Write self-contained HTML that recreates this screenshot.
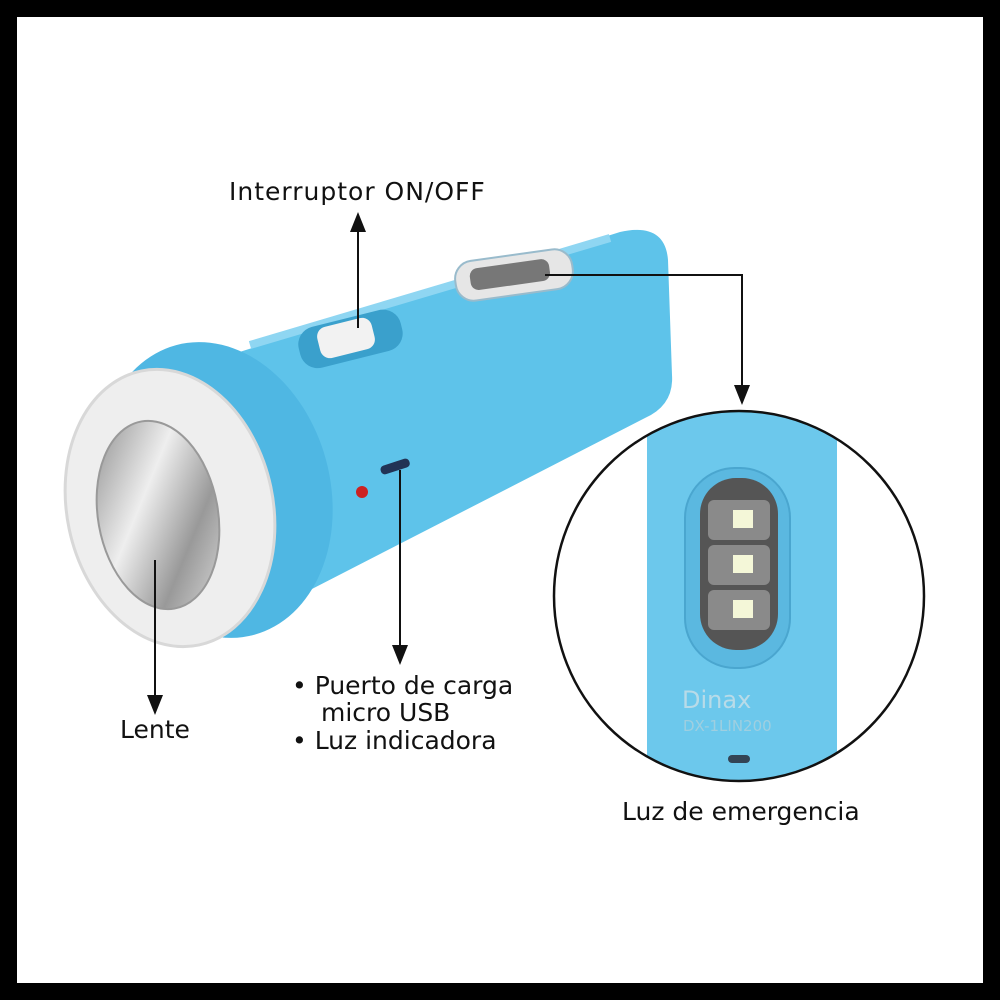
<!DOCTYPE html><html><head><style>body{margin:0}svg{display:block}text{font-family:"DejaVu Sans","Liberation Sans",sans-serif;font-size:25px;fill:#111}</style></head><body>
<svg width="1000" height="1000" viewBox="0 0 1000 1000">
<defs>
<marker id="a" markerWidth="10" markerHeight="10" refX="5" refY="5" orient="auto"><path d="M0,1 L10,5 L0,9 Z" fill="#111"/></marker>
<clipPath id="c"><circle cx="739" cy="596" r="185"/></clipPath>
<linearGradient id="lg" x1="0" y1="0" x2="1" y2="1"><stop offset="0" stop-color="#888"/><stop offset=".4" stop-color="#eee"/><stop offset=".7" stop-color="#999"/><stop offset="1" stop-color="#ddd"/></linearGradient>
</defs>
<rect width="1000" height="1000" fill="#000"/>
<rect x="17" y="17" width="966" height="966" fill="#fff"/>
<path d="M230,355 L620,232 Q665,222 668,260 L672,375 Q674,405 645,418 L310,590 Z" fill="#5ec3ea"/>
<path d="M250,345 L610,238" stroke="#8fd6f2" stroke-width="8" fill="none"/>
<ellipse cx="215" cy="490" rx="115" ry="150" transform="rotate(-15 215 490)" fill="#4fb7e3"/>
<ellipse cx="170" cy="508" rx="103" ry="140" transform="rotate(-12 170 508)" fill="#eeeeee" stroke="#d8d8d8" stroke-width="3"/>
<ellipse cx="158" cy="515" rx="60" ry="95" transform="rotate(-10 158 515)" fill="url(#lg)" stroke="#999" stroke-width="2"/>
<rect x="298" y="318" width="105" height="42" rx="18" transform="rotate(-14 350 339)" fill="#3aa0cc"/>
<rect x="318" y="322" width="56" height="32" rx="10" transform="rotate(-14 346 338)" fill="#f2f2f2"/>
<rect x="455" y="255" width="118" height="40" rx="18" transform="rotate(-8 514 275)" fill="#e6e6e6" stroke="#9bc" stroke-width="2"/>
<rect x="470" y="263" width="80" height="22" rx="8" transform="rotate(-8 514 275)" fill="#777"/>
<circle cx="362" cy="492" r="6" fill="#c22"/>
<rect x="380" y="462" width="30" height="9" rx="4" transform="rotate(-18 395 466)" fill="#235"/>
<g clip-path="url(#c)">
<rect x="647" y="400" width="190" height="400" rx="25" fill="#6cc8ec"/>
<rect x="685" y="468" width="105" height="200" rx="50" fill="#5bb8e0" stroke="#4aa6cf" stroke-width="2"/>
<rect x="700" y="478" width="78" height="172" rx="36" fill="#555"/>
<rect x="708" y="500" width="62" height="40" rx="6" fill="#8a8a8a"/><rect x="733" y="510" width="20" height="18" fill="#f4f7d8"/>
<rect x="708" y="545" width="62" height="40" rx="6" fill="#8a8a8a"/><rect x="733" y="555" width="20" height="18" fill="#f4f7d8"/>
<rect x="708" y="590" width="62" height="40" rx="6" fill="#8a8a8a"/><rect x="733" y="600" width="20" height="18" fill="#f4f7d8"/>
<text x="682" y="708" style="font-size:24px;fill:#b8dbe8">Dinax</text>
<text x="683" y="731" style="font-size:15px;fill:#9fcfe0">DX-1LIN200</text>
<rect x="728" y="755" width="22" height="8" rx="4" fill="#345"/>
</g>
<circle cx="739" cy="596" r="185" fill="none" stroke="#111" stroke-width="2.5"/>
<path d="M358,328 L358,222" stroke="#111" stroke-width="2" fill="none" marker-end="url(#a)"/>
<path d="M545,275 L742,275 L742,395" stroke="#111" stroke-width="2" fill="none" marker-end="url(#a)"/>
<path d="M400,470 L400,655" stroke="#111" stroke-width="2" fill="none" marker-end="url(#a)"/>
<path d="M155,560 L155,705" stroke="#111" stroke-width="2" fill="none" marker-end="url(#a)"/>
<text x="229" y="200" style="letter-spacing:1px">Interruptor ON/OFF</text>
<text x="120" y="738">Lente</text>
<text x="292" y="694">•  Puerto de carga</text>
<text x="321" y="721">micro USB</text>
<text x="292" y="749">•  Luz indicadora</text>
<text x="622" y="820">Luz de emergencia</text>
</svg></body></html>
